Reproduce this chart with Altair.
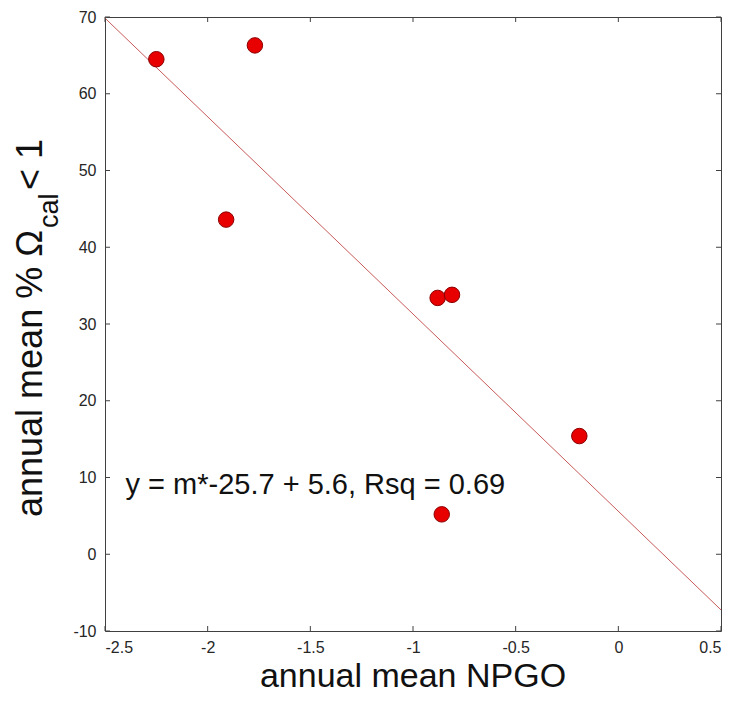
import altair as alt
import pandas as pd

# ---- data ----
npgo = [-2.25, -1.77, -1.91, -0.88, -0.81, -0.19, -0.86]
pct_under = [64.5, 66.3, 43.6, 33.4, 33.8, 15.4, 5.2]

fit_slope = -25.7
fit_intercept = 5.6
fit_rsq = 0.69
fit_x = [-2.5, 0.5]

x_ticks = [-2.5, -2, -1.5, -1, -0.5, 0, 0.5]
y_ticks = [-10, 0, 10, 20, 30, 40, 50, 60, 70]

annot_x = [-2.4]
annot_y = [7.85]
annot_text = ["y = m*-25.7 + 5.6, Rsq = 0.69"]

FONT = "Liberation Sans"
W, H = 616, 614

pts = pd.DataFrame({"x": npgo, "y": pct_under})
line_df = pd.DataFrame({"x": fit_x, "y": [fit_slope * v + fit_intercept for v in fit_x]})
xt = pd.DataFrame({"v": x_ticks})
yt = pd.DataFrame({"v": y_ticks})
ann = pd.DataFrame({"x": annot_x, "y": annot_y, "t": annot_text})

xs = alt.Scale(domain=[-2.5, 0.5], nice=False, zero=False)
ys = alt.Scale(domain=[-10, 70], nice=False, zero=False)
xaxis = alt.Axis(values=x_ticks, title=None, labelExpr="'' + datum.value")
yaxis = alt.Axis(values=y_ticks, title=None, labelExpr="'' + datum.value")

fitline = alt.Chart(line_df).mark_line(color="#c85a5a", strokeWidth=1, clip=True).encode(
    x=alt.X("x:Q", scale=xs, axis=xaxis), y=alt.Y("y:Q", scale=ys, axis=yaxis)
)

points = alt.Chart(pts).mark_circle(
    size=240, color="#e80000", stroke="#8a0000", strokeWidth=1, opacity=1
).encode(x=alt.X("x:Q", scale=xs, axis=xaxis), y=alt.Y("y:Q", scale=ys, axis=yaxis))

annot = alt.Chart(ann).mark_text(
    align="left", baseline="alphabetic", fontSize=29, font=FONT, color="#111111"
).encode(x=alt.X("x:Q", scale=xs, axis=xaxis), y=alt.Y("y:Q", scale=ys, axis=yaxis), text="t:N")

tick_col = "#404040"
tb = alt.Chart(xt).mark_rule(color=tick_col, strokeWidth=1).encode(
    x=alt.X("v:Q", scale=xs, axis=xaxis), y=alt.value(H), y2=alt.value(H - 5))
tt = alt.Chart(xt).mark_rule(color=tick_col, strokeWidth=1).encode(
    x=alt.X("v:Q", scale=xs, axis=xaxis), y=alt.value(0), y2=alt.value(5))
tl = alt.Chart(yt).mark_rule(color=tick_col, strokeWidth=1).encode(
    y=alt.Y("v:Q", scale=ys, axis=yaxis), x=alt.value(0), x2=alt.value(5))
tr = alt.Chart(yt).mark_rule(color=tick_col, strokeWidth=1).encode(
    y=alt.Y("v:Q", scale=ys, axis=yaxis), x=alt.value(W), x2=alt.value(W - 5))

# axis titles (y title has a subscript, so it is composed of pieces)
ytitle_main = alt.Chart(pd.DataFrame({"t": ["annual mean % Ω"]})).mark_text(
    align="left", baseline="alphabetic", angle=270, fontSize=36, font=FONT, color="#111111"
).encode(x=alt.value(-63), y=alt.value(500), text="t:N")
ytitle_sub = alt.Chart(pd.DataFrame({"t": ["cal"]})).mark_text(
    align="left", baseline="alphabetic", angle=270, fontSize=27, font=FONT, color="#111111"
).encode(x=alt.value(-47), y=alt.value(211), text="t:N")
ytitle_end = alt.Chart(pd.DataFrame({"t": [" < 1"]})).mark_text(
    align="left", baseline="alphabetic", angle=270, fontSize=36, font=FONT, color="#111111"
).encode(x=alt.value(-63), y=alt.value(173), text="t:N")

xtitle = alt.Chart(pd.DataFrame({"t": ["annual mean NPGO"]})).mark_text(
    align="center", baseline="alphabetic", fontSize=34, font=FONT, color="#111111"
).encode(x=alt.value(W / 2), y=alt.value(H + 56), text="t:N")

chart = alt.layer(
    fitline, tb, tt, tl, tr, points, annot, ytitle_main, ytitle_sub, ytitle_end, xtitle
).properties(
    width=W, height=H,
    autosize=alt.AutoSizeParams(type="none"),
    padding={"left": 97, "top": 9, "right": 6, "bottom": 63},
).configure_view(
    stroke="#404040", strokeWidth=1
).configure_axis(
    grid=False, domain=False, ticks=False, tickSize=0,
    labelFont=FONT, labelFontSize=16, labelColor="#262626",
).configure_axisX(labelPadding=8).configure_axisY(labelPadding=9)

chart.save("out.html", embed_options={"renderer": "svg", "actions": False})
